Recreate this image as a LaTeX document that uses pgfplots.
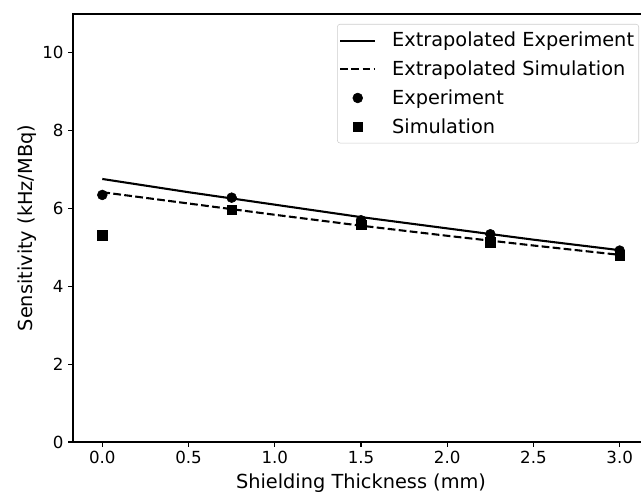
\documentclass[border=0pt]{standalone}
\usepackage{pgfplots}
\pgfplotsset{compat=1.18}
\usepackage{fontspec}
\setmainfont{DejaVu Sans}
\pgfplotsset{
  lineleg/.style={legend image code/.code={\draw[##1] (0pt,0pt) -- (26pt,0pt);}},
  markleg/.style={legend image code/.code={\draw[##1] plot coordinates {(13pt,0pt)};}},
}
\begin{document}
\begin{tikzpicture}
\useasboundingbox (-54.75pt,-41.25pt) rectangle (426pt,331.5pt);
\begin{axis}[
  scale only axis,
  width=432pt, height=321pt,
  xmin=-0.17, xmax=3.17,
  ymin=0, ymax=11,
  xtick={0,0.5,1,1.5,2,2.5,3},
  ytick={0,2,4,6,8,10},
  xticklabel style={/pgf/number format/.cd, fixed, fixed zerofill, precision=1},
  /pgf/number format/assume math mode=true,
  tick label style={font=\fontsize{12.5pt}{14pt}\selectfont},
  tick align=outside,
  major tick length=3.6pt,
  xtick pos=bottom, ytick pos=left,
  axis line style={line width=0.83pt},
  every tick/.style={black, line width=0.83pt},
  xlabel={Shielding Thickness (mm)},
  ylabel={Sensitivity (kHz/MBq)},
  every axis x label/.style={at={(axis description cs:0.5,-0.097)}, anchor=center, font=\fontsize{14.5pt}{17pt}\selectfont},
  every axis y label/.style={at={(axis description cs:-0.079,0.5)}, anchor=center, rotate=90, font=\fontsize{14.5pt}{17pt}\selectfont},
  legend style={at={(rel axis cs:1,1)}, anchor=north east, xshift=-7.5pt, yshift=-7.5pt,
    draw=black!20, rounded corners=2pt, fill=white, fill opacity=0.8, text opacity=1, draw opacity=1,
    font=\fontsize{14.5pt}{17.4pt}\selectfont, row sep=5pt, column sep=10pt, inner xsep=1.5pt, inner ysep=4pt},
  legend cell align=left,
]
\addplot[black, line width=1.56pt, lineleg]
  coordinates {(0,6.76) (0.5,6.42) (1.0,6.10) (1.5,5.78) (2.0,5.49) (2.5,5.20) (3.0,4.93)};
\addlegendentry{Extrapolated Experiment}
\addplot[black, line width=1.56pt, dash pattern=on 5.8pt off 2.5pt, lineleg]
  coordinates {(0,6.42) (0.5,6.13) (1.0,5.84) (1.5,5.56) (2.0,5.30) (2.5,5.05) (3.0,4.81)};
\addlegendentry{Extrapolated Simulation}
\addplot[only marks, mark=*, mark size=3.7pt, black, mark options={draw=black, fill=black, fill opacity=1, draw opacity=1}, markleg]
  coordinates {(0,6.35) (0.75,6.28) (1.5,5.70) (2.25,5.34) (3.0,4.92)};
\addlegendentry{Experiment}
\addplot[only marks, mark=square*, mark size=3.6pt, black, mark options={draw=black, fill=black, fill opacity=1, draw opacity=1}, markleg]
  coordinates {(0,5.32) (0.75,5.97) (1.5,5.58) (2.25,5.13) (3.0,4.80)};
\addlegendentry{Simulation}
\end{axis}
\end{tikzpicture}
\end{document}
